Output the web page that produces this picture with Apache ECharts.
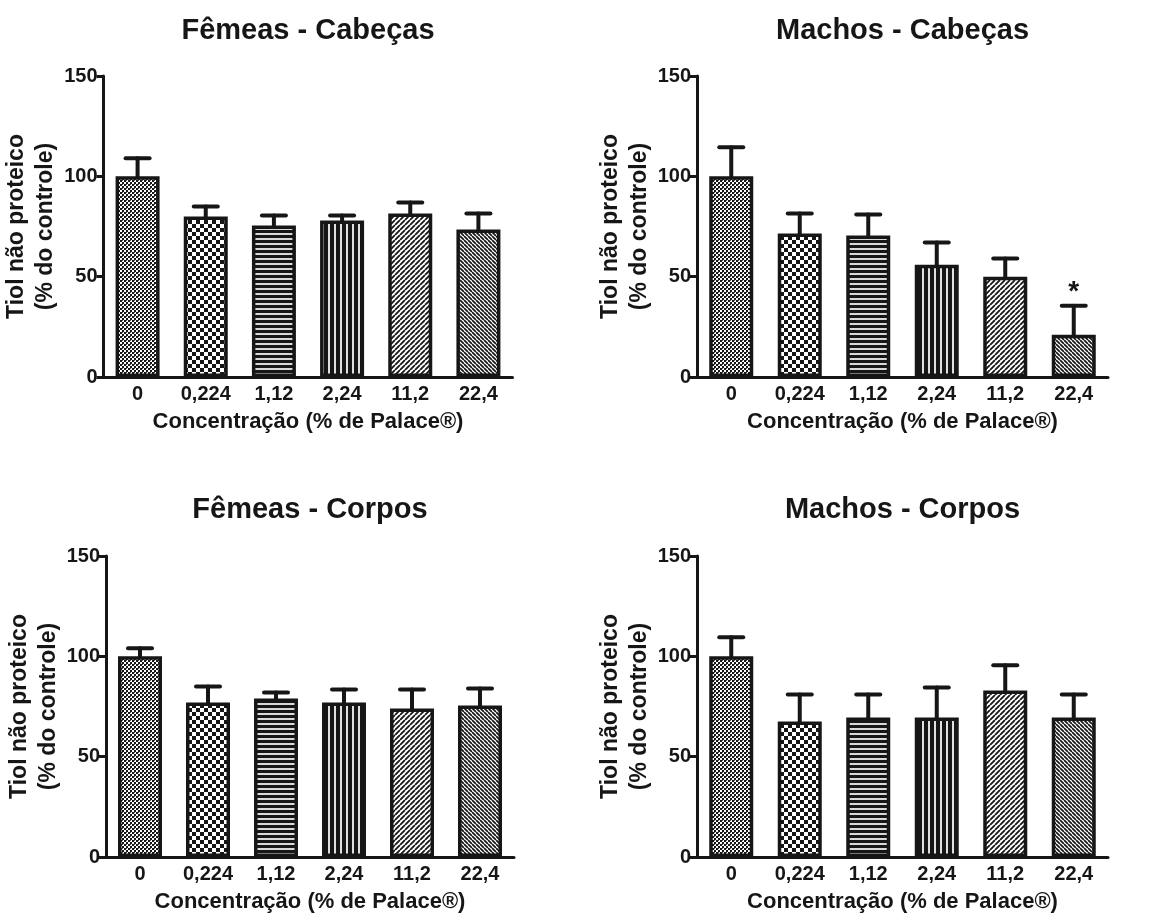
<!DOCTYPE html>
<html>
<head>
<meta charset="utf-8">
<script src="https://cdn.jsdelivr.net/npm/echarts@6/dist/echarts.min.js"></script>
<style>html,body{margin:0;padding:0;background:#fff}#c{width:1157px;height:920px}</style>
</head>
<body>
<div id="c"></div>
<script>
// ---- data ----
var categories = ['0', '0,224', '1,12', '2,24', '11,2', '22,4'];
var yTicks = [0, 50, 100, 150];
var panelTitles = ['Fêmeas - Cabeças', 'Machos - Cabeças', 'Fêmeas - Corpos', 'Machos - Corpos'];
var femeasCabecasMean = [100, 80, 75.5, 78, 81.5, 73.5];
var femeasCabecasErr  = [9, 5, 5, 2.5, 5.5, 8];
var machosCabecasMean = [100, 71.5, 70.5, 56, 50, 21];
var machosCabecasErr  = [14.5, 10, 10.5, 11, 9, 14.5];
var machosCabecasSig  = ['', '', '', '', '', '*'];
var femeasCorposMean  = [100, 77, 79, 77, 74, 75.5];
var femeasCorposErr   = [4, 8, 3, 6.5, 9.5, 8.5];
var machosCorposMean  = [100, 67.5, 69.5, 69.5, 83, 69.5];
var machosCorposErr   = [9.5, 13.5, 11.5, 15, 12.5, 11.5];
var yName = 'Tiol não proteico\n(% do controle)';
var xName = 'Concentração (% de Palace®)';

// ---- patterns ----
function tile(w, h, draw) {
  var c = document.createElement('canvas'); c.width = w; c.height = h;
  var g = c.getContext('2d'); g.fillStyle = '#fff'; g.fillRect(0, 0, w, h);
  draw(g, w, h); return {image: c, repeat: 'repeat'};
}
var INK = '#161616';
var patterns = [
  tile(4, 4, function (g) { g.fillStyle = INK; g.fillRect(0,0,2,2); g.fillRect(2,2,2,2); g.fillStyle='#555'; g.fillRect(2,0,1,1);}),
  tile(8, 8, function (g) { g.fillStyle = INK; g.fillRect(0,0,4,4); g.fillRect(4,4,4,4); }),
  tile(5, 5, function (g) { g.fillStyle = INK; g.fillRect(0,0,5,3); g.fillStyle='#d8d8d8'; g.fillRect(0,3,5,2); }),
  tile(6, 6, function (g) { g.fillStyle = INK; g.fillRect(0,0,4,6); g.fillStyle='#e0e0e0'; g.fillRect(4,0,2,6); }),
  tile(5, 5, function (g, w, h) { g.strokeStyle = INK; g.lineWidth = 1.8; g.beginPath();
    for (var k = -1; k <= 1; k++) { g.moveTo(k*w, h); g.lineTo(k*w + w, 0); } g.stroke(); }),
  tile(4, 4, function (g, w, h) { g.strokeStyle = INK; g.lineWidth = 1.7; g.beginPath();
    for (var k = -1; k <= 1; k++) { g.moveTo(k*w, 0); g.lineTo(k*w + w, h); } g.stroke(); })
];

var FONT = "'Liberation Sans', Arial, Helvetica, sans-serif";
var grids = [
  {left: 103.5, top: 76, width: 409, height: 301},
  {left: 697, top: 76, width: 411, height: 301},
  {left: 106, top: 556, width: 408, height: 301},
  {left: 697, top: 556, width: 411, height: 301}
];
var means = [femeasCabecasMean, machosCabecasMean, femeasCorposMean, machosCorposMean];
var errs = [femeasCabecasErr, machosCabecasErr, femeasCorposErr, machosCorposErr];
var sigs = [null, machosCabecasSig, null, null];
var titleY = [31, 31, 510, 510];

var xAxes = [], yAxes = [], series = [], graphics = [];
grids.forEach(function (gr, i) {
  xAxes.push({
    type: 'category', gridIndex: i, data: categories,
    name: xName, nameLocation: 'middle', nameGap: 34,
    nameTextStyle: {fontFamily: FONT, fontWeight: 'bold', fontSize: 22, color: INK},
    axisLine: {lineStyle: {color: INK, width: 3}},
    axisTick: {alignWithLabel: true, length: 7, lineStyle: {color: INK, width: 3}},
    axisLabel: {fontFamily: FONT, fontWeight: 'bold', fontSize: 20, color: INK, margin: 7},
    splitLine: {show: false}
  });
  yAxes.push({
    type: 'value', gridIndex: i, min: yTicks[0], max: yTicks[yTicks.length - 1], interval: yTicks[1] - yTicks[0],
    name: yName, nameLocation: 'middle', nameGap: 42, nameRotate: 90,
    nameTextStyle: {fontFamily: FONT, fontWeight: 'bold', fontSize: 23, color: INK, lineHeight: 29},
    axisLine: {show: true, lineStyle: {color: INK, width: 3}},
    axisTick: {show: true, length: 7, lineStyle: {color: INK, width: 3}},
    axisLabel: {fontFamily: FONT, fontWeight: 'bold', fontSize: 20, color: INK, margin: 6},
    splitLine: {show: false}
  });
  series.push({
    type: 'bar', xAxisIndex: i, yAxisIndex: i, barWidth: 44, z: 3,
    data: means[i].map(function (v, j) {
      return {value: v, itemStyle: {color: patterns[j], borderColor: INK, borderWidth: 3.5}};
    }),
    animation: false
  });
  series.push({
    type: 'custom', xAxisIndex: i, yAxisIndex: i, z: 2,
    data: means[i].map(function (v, j) { return [j, v, errs[i][j]]; }),
    encode: {x: 0, y: 1},
    renderItem: function (params, api) {
      var j = api.value(0), m = api.value(1), e = api.value(2);
      var p0 = api.coord([j, m]), p1 = api.coord([j, m + e]);
      var hw = 12;
      var st = {stroke: INK, lineWidth: 4, lineCap: 'round'};
      return {type: 'group', children: [
        {type: 'line', shape: {x1: p0[0], y1: p0[1], x2: p1[0], y2: p1[1]}, style: st},
        {type: 'line', shape: {x1: p1[0] - hw, y1: p1[1], x2: p1[0] + hw, y2: p1[1]}, style: st}
      ]};
    },
    animation: false
  });
  if (sigs[i]) {
    series.push({
      type: 'custom', xAxisIndex: i, yAxisIndex: i, z: 4,
      data: means[i].map(function (v, j) { return [j, v + errs[i][j], sigs[i][j]]; }),
      encode: {x: 0, y: 1},
      renderItem: function (params, api) {
        var j = api.value(0), top = api.value(1);
        var txt = sigs[i][j];
        if (!txt) return null;
        var p = api.coord([j, top]);
        return {type: 'text', x: p[0], y: p[1] - 13, style: {text: txt, fill: INK,
          font: 'bold 28px ' + FONT, textAlign: 'center', textVerticalAlign: 'middle'}};
      },
      animation: false
    });
  }
  graphics.push({
    type: 'text', x: gr.left + gr.width / 2, y: titleY[i],
    style: {text: panelTitles[i], fill: INK, font: 'bold 29px ' + FONT, textAlign: 'center', textVerticalAlign: 'middle'}
  });
});

var chart = echarts.init(document.getElementById('c'), null, {renderer: 'canvas'});
chart.setOption({
  animation: false,
  backgroundColor: '#fff',
  grid: grids,
  xAxis: xAxes,
  yAxis: yAxes,
  series: series,
  graphic: graphics
});
</script>
</body>
</html>
